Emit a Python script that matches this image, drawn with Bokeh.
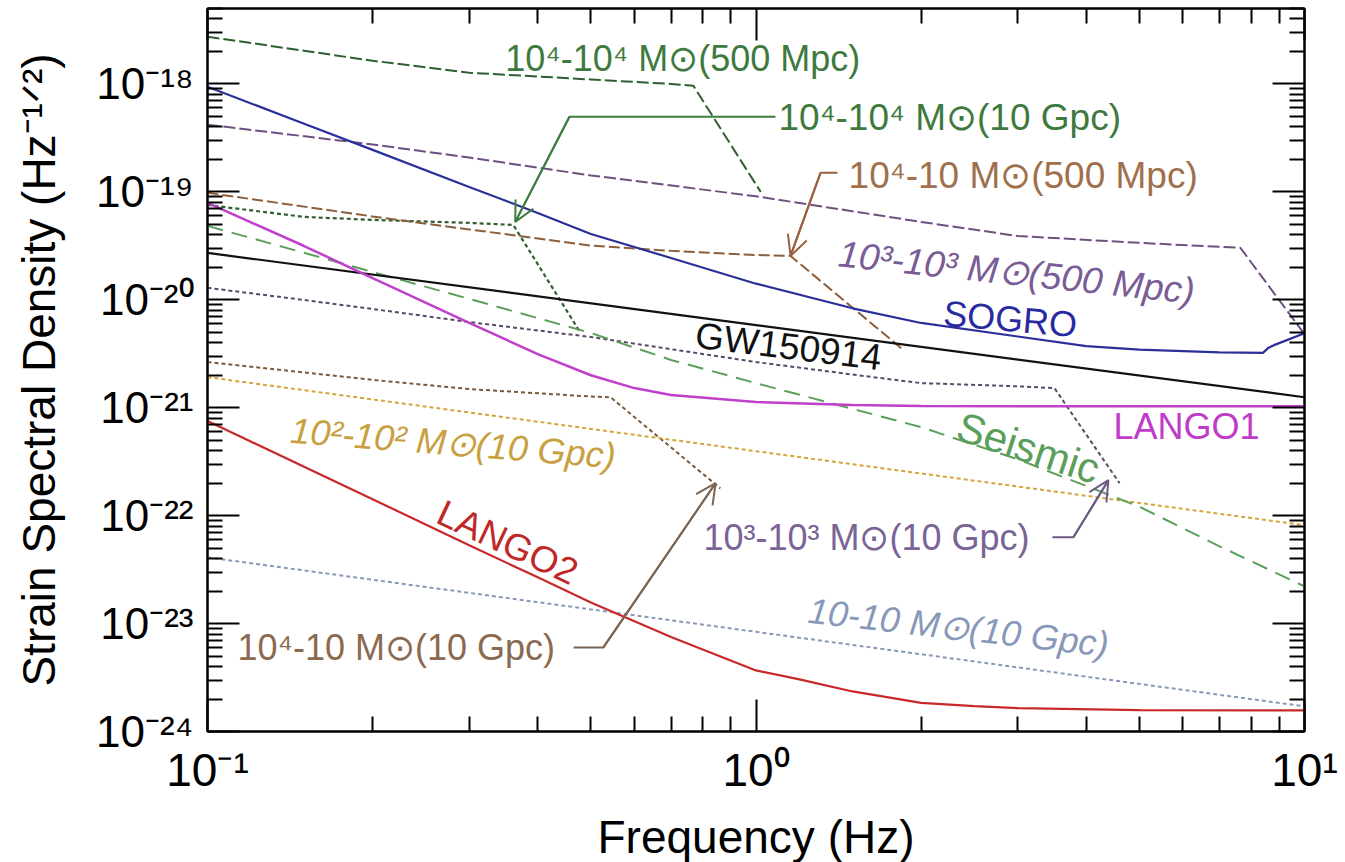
import math
from bokeh.plotting import figure
from bokeh.models import LogAxis, FixedTicker, CustomJSTickFormatter, Arrow, OpenHead, Label
from bokeh.embed import file_html
from bokeh.resources import INLINE

FONT = "Liberation Sans"

# ---------------- data (frequency in Hz, strain in Hz^-1/2) ----------------
sogro_f = [0.1, 0.15, 0.2, 0.3, 0.4, 0.5, 0.7, 1.0, 1.5, 2.0, 3.0, 4.0, 5.0, 7.0, 8.4, 8.6, 8.8, 10.0]
sogro_h = [9.42e-19, 4.28e-19, 2.45e-19, 1.11e-19, 6.38e-20, 4.07e-20, 2.44e-20, 1.41e-20, 8.34e-21,
           6.1e-21, 4.57e-21, 3.72e-21, 3.46e-21, 3.25e-21, 3.22e-21, 3.6e-21, 3.8e-21, 4.9e-21]

lango1_f = [0.1, 0.15, 0.2, 0.3, 0.4, 0.5, 0.6, 0.7, 1.0, 1.5, 2.0, 3.0, 5.0, 10.0]
lango1_h = [7.9e-20, 3.15e-20, 1.59e-20, 6.1e-21, 3.14e-21, 2.0e-21, 1.52e-21, 1.31e-21, 1.13e-21,
            1.06e-21, 1.04e-21, 1.03e-21, 1.03e-21, 1.03e-21]

lango2_f = [0.1, 0.2, 0.3, 0.4, 0.5, 0.7, 1.0, 1.2, 1.5, 2.0, 2.5, 3.0, 5.0, 10.0]
lango2_h = [7.52e-22, 1.42e-22, 5.31e-23, 2.68e-23, 1.57e-23, 7.52e-24, 3.68e-24, 3.04e-24, 2.35e-24,
            1.84e-24, 1.72e-24, 1.65e-24, 1.58e-24, 1.57e-24]

gw_f = [0.1, 1.0, 10.0]
gw_h = [2.72e-20, 5.83e-21, 1.25e-21]

seismic_f = [0.1, 0.2, 0.3, 0.5, 0.7, 1.0, 2.0, 3.0, 5.0, 7.0, 10.0]
seismic_h = [4.84e-20, 1.81e-20, 1.02e-20, 4.92e-21, 2.77e-21, 1.69e-21, 6.61e-22, 3.33e-22,
             1.21e-22, 5.2e-23, 2.21e-23]

bh44_500_f = [0.1, 0.15, 0.2, 0.3, 0.5, 0.7, 0.769, 1.02]
bh44_500_h = [2.74e-18, 2.03e-18, 1.64e-18, 1.27e-18, 1.1e-18, 1.0e-18, 9.6e-19, 1.0e-19]

bh44_10g_f = [0.1, 0.15, 0.2, 0.3, 0.361, 0.479]
bh44_10g_h = [7.56e-20, 5.86e-20, 5.5e-20, 5.16e-20, 4.94e-20, 4.92e-21]

bh41_500_f = [0.1, 0.2, 0.3, 0.5, 0.7, 1.0, 1.156, 1.857]
bh41_500_h = [9.8e-20, 5.92e-20, 4.49e-20, 3.18e-20, 2.84e-20, 2.6e-20, 2.55e-20, 3.42e-21]

bh33_500_f = [0.1, 0.2, 0.3, 0.5, 1.0, 2.0, 3.0, 5.0, 7.64, 10.0]
bh33_500_h = [4.19e-19, 2.75e-19, 2.08e-19, 1.42e-19, 9.1e-20, 5.27e-20, 3.9e-20, 3.37e-20, 3.03e-20, 4.8e-21]

bh33_10g_f = [0.1, 0.15, 0.2, 0.3, 0.5, 1.0, 1.5, 2.0, 3.0, 3.5, 4.6]
bh33_10g_h = [1.29e-20, 9.95e-21, 8.22e-21, 6.22e-21, 4.52e-21, 2.65e-21, 2.03e-21, 1.69e-21,
              1.58e-21, 1.52e-21, 2.0e-22]

bh41_10g_f = [0.1, 0.2, 0.3, 0.5, 0.543, 0.861]
bh41_10g_h = [2.65e-21, 1.81e-21, 1.49e-21, 1.27e-21, 1.25e-21, 1.79e-22]

bh22_10g_f = [0.1, 10.0]
bh22_10g_h = [1.92e-21, 8.15e-23]

bh11_10g_f = [0.1, 10.0]
bh11_10g_h = [4.11e-23, 1.71e-24]

x_tick_values = [0.1, 1.0, 10.0]
y_tick_values = [1e-24, 1e-23, 1e-22, 1e-21, 1e-20, 1e-19, 1e-18]

# annotation labels: text, freq, strain (anchor at text mid-height), angle(deg), style, colour, size
labels = [
    ("10\u2074-10\u2074 M\u2299(500 Mpc)", 0.349, 1.71e-18, 0.0, "normal", "#3e7a3e", "36px"),
    ("10\u2074-10\u2074 M\u2299(10 Gpc)", 1.099, 4.85e-19, 0.0, "normal", "#3e7a3e", "37px"),
    ("10\u2074-10 M\u2299(500 Mpc)", 1.475, 1.41e-19, 0.0, "normal", "#a0704c", "37px"),
    ("10\u00b3-10\u00b3 M\u2299(500 Mpc)", 1.414, 2.66e-20, -6.0, "italic", "#7a5c96", "37px"),
    ("SOGRO", 2.197, 7.55e-21, -5.0, "normal", "#2a2aa0", "36px"),
    ("GW150914", 0.776, 4.71e-21, -7.0, "normal", "#111111", "37px"),
    ("LANGO1", 4.485, 6.74e-22, 0.0, "normal", "#c03cc8", "36px"),
    ("Seismic", 2.34, 6.9e-22, -18.0, "normal", "#5a9e5a", "42px"),
    ("10\u00b2-10\u00b2 M\u2299(10 Gpc)", 0.1417, 6.19e-22, -4.5, "italic", "#c8a040", "36px"),
    ("10\u00b3-10\u00b3 M\u2299(10 Gpc)", 0.802, 6.31e-23, 0.0, "normal", "#7a6496", "36px"),
    ("LANGO2", 0.265, 1.11e-22, -25.0, "normal", "#c02828", "37px"),
    ("10\u2074-10 M\u2299(10 Gpc)", 0.1134, 6.01e-24, 0.0, "normal", "#8a6a50", "36px"),
    ("10-10 M\u2299(10 Gpc)", 1.246, 1.33e-23, -6.5, "italic", "#8898b8", "36px"),
]

# pointer arrows: path (freq list, strain list), colour
arrows = [
    ([1.085, 0.457, 0.364], [4.97e-19, 4.97e-19, 5.27e-20], "#3d7d3d"),
    ([1.408, 1.311, 1.156], [1.5e-19, 1.5e-19, 2.55e-20], "#9a6040"),
    ([3.47, 3.79, 4.39], [6.3e-23, 6.3e-23, 2.13e-22], "#6e5a86"),
    ([0.465, 0.527, 0.844], [6.01e-24, 6.01e-24, 2.0e-22], "#7d6450"),
]

# ---------------- figure ----------------
p = figure(x_axis_type="log", y_axis_type="log", x_range=(0.1, 10), y_range=(1e-24, 5e-18),
           frame_width=1097, frame_height=723, output_backend="svg", toolbar_location=None,
           min_border_left=207, min_border_right=36, min_border_top=8, min_border_bottom=127,
           background_fill_color="white", border_fill_color="white")
p.grid.visible = False
p.outline_line_color = "black"
p.outline_line_width = 2

x_minor = [m * 10.0 ** e for e in (-1, 0) for m in range(2, 10)]
y_minor = [m * 10.0 ** e for e in range(-24, -18) for m in range(2, 10)] + [m * 1e-18 for m in range(2, 6)]
xt = FixedTicker(ticks=x_tick_values, minor_ticks=x_minor)
yt = FixedTicker(ticks=y_tick_values, minor_ticks=y_minor)

fmt = CustomJSTickFormatter(code="""
const sup = {'-':'\u207b','0':'\u2070','1':'\u00b9','2':'\u00b2','3':'\u00b3','4':'\u2074',
             '5':'\u2075','6':'\u2076','7':'\u2077','8':'\u2078','9':'\u2079'};
const e = Math.round(Math.log10(tick));
return '10' + String(e).split('').map(c => sup[c]).join('');
""")
blank = CustomJSTickFormatter(code="return ' ';")


def style_axis(ax, ticker, show_labels):
    ax.ticker = ticker
    ax.axis_line_color = "black"
    ax.axis_line_width = 2
    ax.major_tick_line_width = 2
    ax.minor_tick_line_width = 2
    ax.major_tick_in = 32
    ax.major_tick_out = 0
    ax.minor_tick_in = 15
    ax.minor_tick_out = 0
    if show_labels:
        ax.formatter = fmt
        ax.major_label_text_font = FONT
        ax.major_label_text_font_size = "44px"
        ax.major_label_text_color = "black"
        ax.axis_label_text_font = FONT
        ax.axis_label_text_font_size = "46px"
        ax.axis_label_text_font_style = "normal"
        ax.axis_label_text_color = "black"
    else:
        ax.formatter = blank
        ax.major_label_text_font_size = "1px"
        ax.major_label_text_alpha = 0
        ax.major_label_standoff = 0


style_axis(p.xaxis[0], xt, True)
style_axis(p.yaxis[0], yt, True)
p.xaxis[0].axis_label = "Frequency (Hz)"
p.xaxis[0].major_label_text_font_size = "46px"
p.xaxis[0].major_label_standoff = 12
p.xaxis[0].axis_label_standoff = 12
p.yaxis[0].axis_label = "Strain Spectral Density (Hz\u207b\u00b9\u141f\u00b2)"
p.yaxis[0].major_label_standoff = 14
p.yaxis[0].axis_label_standoff = 28

top = LogAxis()
style_axis(top, xt, False)
p.add_layout(top, "above")
right = LogAxis()
style_axis(right, yt, False)
p.add_layout(right, "right")

# ---------------- curves ----------------
p.line(bh44_500_f, bh44_500_h, line_color="#2f5f2f", line_width=2, line_dash="12 4")
p.line(bh44_10g_f, bh44_10g_h, line_color="#2f5f2f", line_width=2.2, line_dash="4 3")
p.line(bh41_500_f, bh41_500_h, line_color="#8b5e3c", line_width=2, line_dash="11 4")
p.line(bh33_500_f, bh33_500_h, line_color="#6e5080", line_width=2, line_dash="12 4")
p.line(bh33_10g_f, bh33_10g_h, line_color="#5a4a66", line_width=2, line_dash="4 3")
p.line(bh41_10g_f, bh41_10g_h, line_color="#7a5a3a", line_width=2, line_dash="4 3")
p.line(bh22_10g_f, bh22_10g_h, line_color="#d4a53a", line_width=2, line_dash="4 3")
p.line(bh11_10g_f, bh11_10g_h, line_color="#8a98b8", line_width=2, line_dash="4 3")
p.line(seismic_f, seismic_h, line_color="#5aa05a", line_width=2, line_dash="16 9")
p.line(gw_f, gw_h, line_color="#111111", line_width=2.2)
p.line(lango2_f, lango2_h, line_color="#c82828", line_width=2.2)
p.line(lango1_f, lango1_h, line_color="#c040cc", line_width=2.5)
p.line(sogro_f, sogro_h, line_color="#2b2f9a", line_width=2.2)

# ---------------- pointer arrows ----------------
for fs, hs, col in arrows:
    p.line(fs, hs, line_color=col, line_width=2)
    p.add_layout(Arrow(x_start=fs[-2], y_start=hs[-2], x_end=fs[-1], y_end=hs[-1],
                       line_color=col, line_width=2,
                       end=OpenHead(size=20, line_color=col, line_width=2)))

# ---------------- labels ----------------
for txt, fx, hy, ang, sty, col, size in labels:
    p.add_layout(Label(x=fx, y=hy, text=txt, angle=math.radians(ang), text_font=FONT,
                       text_font_size=size, text_font_style=sty, text_color=col,
                       text_align="left", text_baseline="alphabetic"))

open("out.html", "w").write(file_html(p, INLINE))
